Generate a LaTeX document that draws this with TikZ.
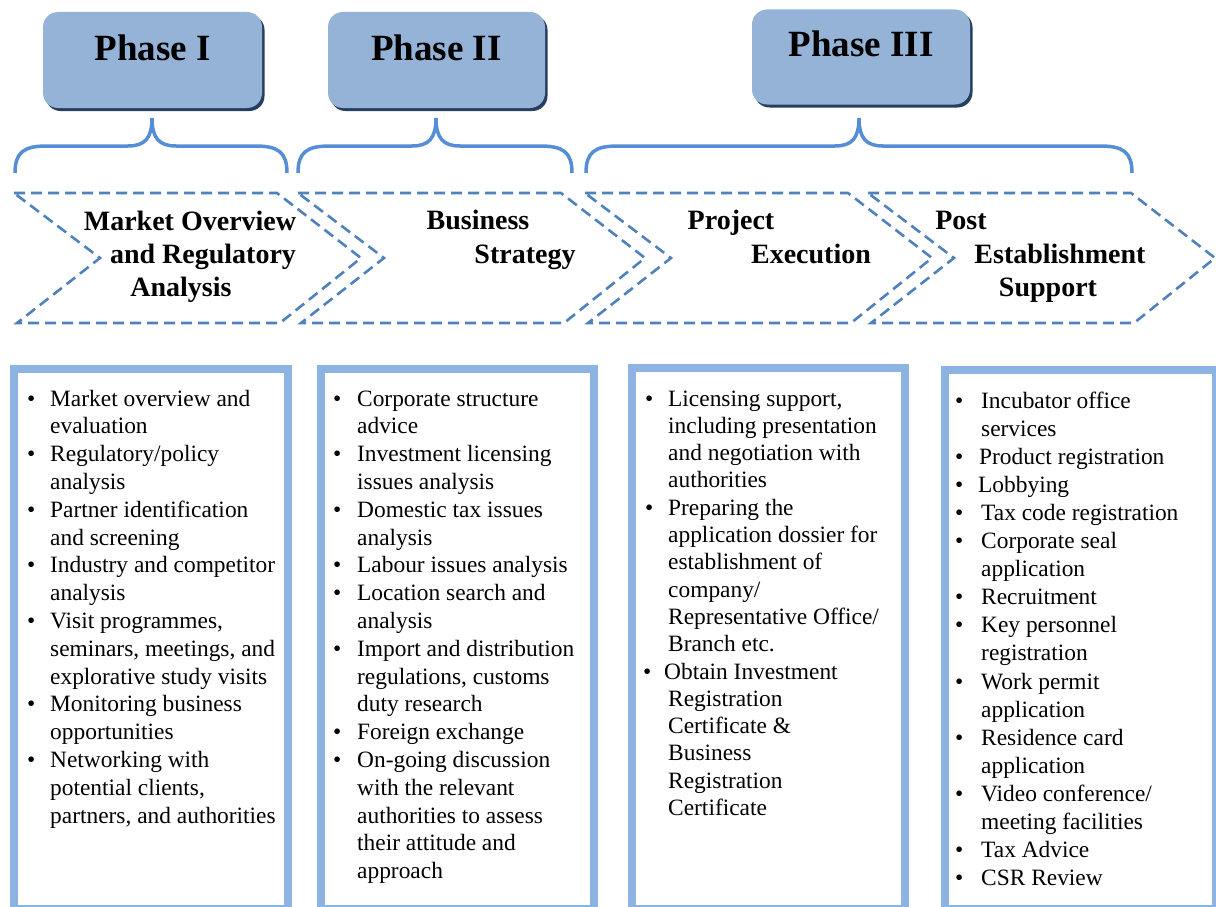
\documentclass[tikz,border=0pt]{standalone}
\usepackage{fontspec}
\setmainfont{Liberation Serif}
\usetikzlibrary{shadows}
\definecolor{phasefill}{HTML}{95B3D7}
\definecolor{phaseshadow}{HTML}{243F60}
\definecolor{bracec}{HTML}{558ED5}
\definecolor{chevc}{HTML}{4F81BD}
\definecolor{boxc}{HTML}{8DB3E2}
\newlength\hangw
\newcommand\itbul{\makebox[\hangw][l]{\textbullet}}
\newcommand\itind{\hspace*{\hangw}}
\newcommand\mybrace[3]{\draw[bracestyle] (#1,173) .. controls (#1,152) and (#1+9,146) .. (#1+32,146) -- (#2-24,146) .. controls (#2-7,146) and (#2,138) .. (#2,118) .. controls (#2,138) and (#2+7,146) .. (#2+24,146) -- (#3-32,146) .. controls (#3-9,146) and (#3,152) .. (#3,173);}
\newcommand\chev[1]{\draw[chevstyle] (#1,193) -- (#1+263,193) -- (#1+347,258) -- (#1+266,323) -- (#1+3,323) -- (#1+86,258) -- cycle;}
\tikzset{
 phasebox/.style={rectangle, rounded corners=15pt, fill=phasefill, draw=none,
   drop shadow={fill=phaseshadow, opacity=1, shadow xshift=2.5pt, shadow yshift=-3pt},
   text height=30pt, text depth=30pt, inner sep=0pt, font=\fontsize{37}{40}\selectfont\bfseries},
 bracestyle/.style={draw=bracec, line width=3.5pt},
 chevstyle/.style={draw=chevc, line width=2.6pt, dash pattern=on 11pt off 6pt},
 chevtxt/.style={anchor=base, inner sep=0pt, font=\fontsize{28}{33}\selectfont\bfseries},
 listbox/.style={rectangle, draw=boxc, line width=8pt, fill=white, inner sep=0pt},
 listtxt/.style={anchor=base west, inner sep=0pt, font=\fontsize{23.4}{27.8}\selectfont},
}
\begin{document}
\begin{tikzpicture}[x=1pt,y=-1pt]
\useasboundingbox (0,0) rectangle (1216,907);
% phase boxes
\node[phasebox, minimum width=219pt, minimum height=96pt] (p1) at (152.5,60) {Phase I};
\node[phasebox, minimum width=217pt, minimum height=96pt] (p2) at (436.5,60) {Phase II};
\node[phasebox, minimum width=218pt, minimum height=95pt] (p3) at (861,57) {Phase III};
% braces
\mybrace{15}{152}{287}
\mybrace{298}{436}{572}
\mybrace{586}{859}{1132}
% chevrons
\chev{14}
\chev{298}
\chev{585}
\chev{868}
\node[chevtxt] (c1a) at (190,230) {Market Overview};
\node[chevtxt] (c1b) at (203,263) {and Regulatory};
\node[chevtxt] (c1c) at (181,296) {Analysis};
\node[chevtxt] (c2a) at (478,229) {Business};
\node[chevtxt] (c2b) at (525,263) {Strategy};
\node[chevtxt] (c3a) at (731,229) {Project};
\node[chevtxt] (c3b) at (811,263) {Execution};
\node[chevtxt] (c4a) at (961,229) {Post};
\node[chevtxt] (c4b) at (1060,263) {Establishment};
\node[chevtxt] (c4c) at (1048,296) {Support};
% list boxes
\node[listbox, minimum width=274pt, minimum height=540pt] (b1) at (151,639) {};
\node[listbox, minimum width=273pt, minimum height=540pt] (b2) at (457.5,639) {};
\node[listbox, minimum width=273pt, minimum height=541pt] (b3) at (768.5,638.5) {};
\node[listbox, minimum width=271pt, minimum height=539pt] (b4) at (1080.5,639.5) {};
% list texts
\node[listtxt] (t1) at (27,406) {\setlength\hangw{23pt}\parbox[t]{270pt}{\raggedright
\itbul Market overview and\\
\itind evaluation\\
\itbul Regulatory/policy\\
\itind analysis\\
\itbul Partner identification\\
\itind and screening\\
\itbul Industry and competitor\\
\itind analysis\\
\itbul Visit programmes,\\
\itind seminars, meetings, and\\
\itind explorative study visits\\
\itbul Monitoring business\\
\itind opportunities\\
\itbul Networking with\\
\itind potential clients,\\
\itind partners, and authorities}};
\node[listtxt] (t2) at (333,406) {\setlength\hangw{24pt}\parbox[t]{270pt}{\raggedright
\itbul Corporate structure\\
\itind advice\\
\itbul Investment licensing\\
\itind issues analysis\\
\itbul Domestic tax issues\\
\itind analysis\\
\itbul Labour issues analysis\\
\itbul Location search and\\
\itind analysis\\
\itbul Import and distribution\\
\itind regulations, customs\\
\itind duty research\\
\itbul Foreign exchange\\
\itbul On-going discussion\\
\itind with the relevant\\
\itind authorities to assess\\
\itind their attitude and\\
\itind approach}};
\node[listtxt, font=\fontsize{23.4}{27.3}\selectfont] (t3) at (645,406) {\setlength\hangw{23pt}\parbox[t]{270pt}{\raggedright
\itbul Licensing support,\\
\itind including presentation\\
\itind and negotiation with\\
\itind authorities\\
\itbul Preparing the\\
\itind application dossier for\\
\itind establishment of\\
\itind company/\\
\itind Representative Office/\\
\itind Branch etc.\\
\hspace*{-2pt}\makebox[21pt][l]{\textbullet}Obtain Investment\\
\itind Registration\\
\itind Certificate \&\\
\itind Business\\
\itind Registration\\
\itind Certificate}};
\node[listtxt, font=\fontsize{23.4}{28.1}\selectfont] (t4) at (955,408) {\setlength\hangw{26pt}\parbox[t]{260pt}{\raggedright
\itbul Incubator office\\
\itind services\\
\makebox[24pt][l]{\textbullet}Product registration\\
\makebox[23pt][l]{\textbullet}Lobbying\\
\itbul Tax code registration\\
\itbul Corporate seal\\
\itind application\\
\itbul Recruitment\\
\itbul Key personnel\\
\itind registration\\
\itbul Work permit\\
\itind application\\
\itbul Residence card\\
\itind application\\
\itbul Video conference/\\
\itind meeting facilities\\
\itbul Tax Advice\\
\itbul CSR Review}};
\end{tikzpicture}
\end{document}
